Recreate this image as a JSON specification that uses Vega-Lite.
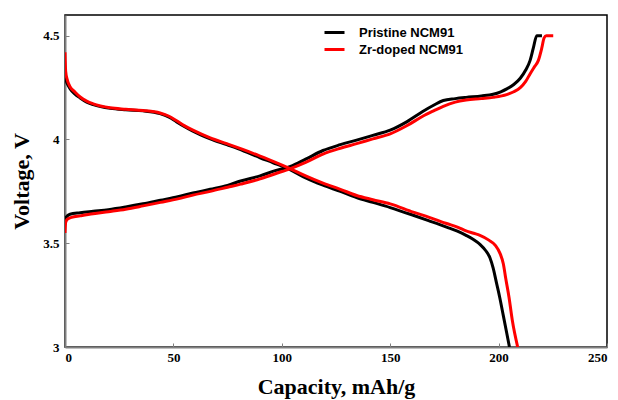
{
  "$schema": "https://vega.github.io/schema/vega-lite/v6.json",
  "width": 542,
  "height": 332,
  "autosize": "none",
  "padding": {"left": 65, "top": 15, "right": 11, "bottom": 53},
  "background": "white",
  "config": {
    "view": {"stroke": "black", "strokeWidth": 1.5},
    "axis": {
      "grid": false,
      "domainColor": "#808080",
      "domainWidth": 2,
      "tickColor": "#808080",
      "tickSize": -4,
      "tickWidth": 1,
      "labelFont": "Liberation Serif",
      "labelFontWeight": "bold",
      "labelFontSize": 13,
      "labelColor": "black",
      "titleFont": "Liberation Serif",
      "titleFontWeight": "bold",
      "titleFontSize": 22,
      "titleColor": "black"
    }
  },
  "data": {
    "values": [
      {"sample": "Pristine NCM91", "branch": "charge", "i": 0, "cap": 0, "v": 3.6},
      {"sample": "Pristine NCM91", "branch": "charge", "i": 1, "cap": 0.5, "v": 3.625},
      {"sample": "Pristine NCM91", "branch": "charge", "i": 2, "cap": 2.3, "v": 3.64},
      {"sample": "Pristine NCM91", "branch": "charge", "i": 3, "cap": 7, "v": 3.647},
      {"sample": "Pristine NCM91", "branch": "charge", "i": 4, "cap": 13, "v": 3.654},
      {"sample": "Pristine NCM91", "branch": "charge", "i": 5, "cap": 20, "v": 3.662},
      {"sample": "Pristine NCM91", "branch": "charge", "i": 6, "cap": 28, "v": 3.675},
      {"sample": "Pristine NCM91", "branch": "charge", "i": 7, "cap": 36, "v": 3.69},
      {"sample": "Pristine NCM91", "branch": "charge", "i": 8, "cap": 44, "v": 3.707},
      {"sample": "Pristine NCM91", "branch": "charge", "i": 9, "cap": 52, "v": 3.724},
      {"sample": "Pristine NCM91", "branch": "charge", "i": 10, "cap": 59, "v": 3.742},
      {"sample": "Pristine NCM91", "branch": "charge", "i": 11, "cap": 67, "v": 3.76},
      {"sample": "Pristine NCM91", "branch": "charge", "i": 12, "cap": 75, "v": 3.779},
      {"sample": "Pristine NCM91", "branch": "charge", "i": 13, "cap": 81, "v": 3.8},
      {"sample": "Pristine NCM91", "branch": "charge", "i": 14, "cap": 90, "v": 3.825},
      {"sample": "Pristine NCM91", "branch": "charge", "i": 15, "cap": 97, "v": 3.85},
      {"sample": "Pristine NCM91", "branch": "charge", "i": 16, "cap": 104, "v": 3.87},
      {"sample": "Pristine NCM91", "branch": "charge", "i": 17, "cap": 111, "v": 3.905},
      {"sample": "Pristine NCM91", "branch": "charge", "i": 18, "cap": 119, "v": 3.947},
      {"sample": "Pristine NCM91", "branch": "charge", "i": 19, "cap": 127, "v": 3.975},
      {"sample": "Pristine NCM91", "branch": "charge", "i": 20, "cap": 134.5, "v": 3.997},
      {"sample": "Pristine NCM91", "branch": "charge", "i": 21, "cap": 142, "v": 4.02},
      {"sample": "Pristine NCM91", "branch": "charge", "i": 22, "cap": 150, "v": 4.045},
      {"sample": "Pristine NCM91", "branch": "charge", "i": 23, "cap": 157.6, "v": 4.085},
      {"sample": "Pristine NCM91", "branch": "charge", "i": 24, "cap": 165, "v": 4.135},
      {"sample": "Pristine NCM91", "branch": "charge", "i": 25, "cap": 170, "v": 4.165},
      {"sample": "Pristine NCM91", "branch": "charge", "i": 26, "cap": 174.5, "v": 4.188},
      {"sample": "Pristine NCM91", "branch": "charge", "i": 27, "cap": 180, "v": 4.197},
      {"sample": "Pristine NCM91", "branch": "charge", "i": 28, "cap": 185, "v": 4.203},
      {"sample": "Pristine NCM91", "branch": "charge", "i": 29, "cap": 192, "v": 4.21},
      {"sample": "Pristine NCM91", "branch": "charge", "i": 30, "cap": 197.5, "v": 4.218},
      {"sample": "Pristine NCM91", "branch": "charge", "i": 31, "cap": 201, "v": 4.23},
      {"sample": "Pristine NCM91", "branch": "charge", "i": 32, "cap": 204, "v": 4.245},
      {"sample": "Pristine NCM91", "branch": "charge", "i": 33, "cap": 207, "v": 4.265},
      {"sample": "Pristine NCM91", "branch": "charge", "i": 34, "cap": 210, "v": 4.295},
      {"sample": "Pristine NCM91", "branch": "charge", "i": 35, "cap": 212.5, "v": 4.335},
      {"sample": "Pristine NCM91", "branch": "charge", "i": 36, "cap": 214.5, "v": 4.38},
      {"sample": "Pristine NCM91", "branch": "charge", "i": 37, "cap": 216, "v": 4.44},
      {"sample": "Pristine NCM91", "branch": "charge", "i": 38, "cap": 217.6, "v": 4.5},
      {"sample": "Pristine NCM91", "branch": "charge", "i": 39, "cap": 220, "v": 4.5},

      {"sample": "Pristine NCM91", "branch": "discharge", "i": 0, "cap": 0, "v": 4.3},
      {"sample": "Pristine NCM91", "branch": "discharge", "i": 1, "cap": 1, "v": 4.27},
      {"sample": "Pristine NCM91", "branch": "discharge", "i": 2, "cap": 2.3, "v": 4.245},
      {"sample": "Pristine NCM91", "branch": "discharge", "i": 3, "cap": 4.5, "v": 4.22},
      {"sample": "Pristine NCM91", "branch": "discharge", "i": 4, "cap": 7, "v": 4.2},
      {"sample": "Pristine NCM91", "branch": "discharge", "i": 5, "cap": 10, "v": 4.18},
      {"sample": "Pristine NCM91", "branch": "discharge", "i": 6, "cap": 13, "v": 4.168},
      {"sample": "Pristine NCM91", "branch": "discharge", "i": 7, "cap": 20.8, "v": 4.15},
      {"sample": "Pristine NCM91", "branch": "discharge", "i": 8, "cap": 28, "v": 4.143},
      {"sample": "Pristine NCM91", "branch": "discharge", "i": 9, "cap": 36, "v": 4.138},
      {"sample": "Pristine NCM91", "branch": "discharge", "i": 10, "cap": 43.8, "v": 4.125},
      {"sample": "Pristine NCM91", "branch": "discharge", "i": 11, "cap": 48, "v": 4.108},
      {"sample": "Pristine NCM91", "branch": "discharge", "i": 12, "cap": 51.5, "v": 4.085},
      {"sample": "Pristine NCM91", "branch": "discharge", "i": 13, "cap": 55, "v": 4.063},
      {"sample": "Pristine NCM91", "branch": "discharge", "i": 14, "cap": 59, "v": 4.04},
      {"sample": "Pristine NCM91", "branch": "discharge", "i": 15, "cap": 67, "v": 4.003},
      {"sample": "Pristine NCM91", "branch": "discharge", "i": 16, "cap": 74.6, "v": 3.975},
      {"sample": "Pristine NCM91", "branch": "discharge", "i": 17, "cap": 82, "v": 3.947},
      {"sample": "Pristine NCM91", "branch": "discharge", "i": 18, "cap": 90, "v": 3.912},
      {"sample": "Pristine NCM91", "branch": "discharge", "i": 19, "cap": 96, "v": 3.888},
      {"sample": "Pristine NCM91", "branch": "discharge", "i": 20, "cap": 103.8, "v": 3.855},
      {"sample": "Pristine NCM91", "branch": "discharge", "i": 21, "cap": 111, "v": 3.815},
      {"sample": "Pristine NCM91", "branch": "discharge", "i": 22, "cap": 119, "v": 3.78},
      {"sample": "Pristine NCM91", "branch": "discharge", "i": 23, "cap": 127, "v": 3.75},
      {"sample": "Pristine NCM91", "branch": "discharge", "i": 24, "cap": 134.5, "v": 3.72},
      {"sample": "Pristine NCM91", "branch": "discharge", "i": 25, "cap": 142, "v": 3.697},
      {"sample": "Pristine NCM91", "branch": "discharge", "i": 26, "cap": 150, "v": 3.672},
      {"sample": "Pristine NCM91", "branch": "discharge", "i": 27, "cap": 160.6, "v": 3.635},
      {"sample": "Pristine NCM91", "branch": "discharge", "i": 28, "cap": 168, "v": 3.608},
      {"sample": "Pristine NCM91", "branch": "discharge", "i": 29, "cap": 176, "v": 3.578},
      {"sample": "Pristine NCM91", "branch": "discharge", "i": 30, "cap": 181, "v": 3.558},
      {"sample": "Pristine NCM91", "branch": "discharge", "i": 31, "cap": 185, "v": 3.538},
      {"sample": "Pristine NCM91", "branch": "discharge", "i": 32, "cap": 188.4, "v": 3.518},
      {"sample": "Pristine NCM91", "branch": "discharge", "i": 33, "cap": 191.4, "v": 3.495},
      {"sample": "Pristine NCM91", "branch": "discharge", "i": 34, "cap": 194, "v": 3.465},
      {"sample": "Pristine NCM91", "branch": "discharge", "i": 35, "cap": 196, "v": 3.43},
      {"sample": "Pristine NCM91", "branch": "discharge", "i": 36, "cap": 197.5, "v": 3.38},
      {"sample": "Pristine NCM91", "branch": "discharge", "i": 37, "cap": 199, "v": 3.31},
      {"sample": "Pristine NCM91", "branch": "discharge", "i": 38, "cap": 200.5, "v": 3.24},
      {"sample": "Pristine NCM91", "branch": "discharge", "i": 39, "cap": 202.2, "v": 3.15},
      {"sample": "Pristine NCM91", "branch": "discharge", "i": 40, "cap": 203.7, "v": 3.07},
      {"sample": "Pristine NCM91", "branch": "discharge", "i": 41, "cap": 205, "v": 3.0},

      {"sample": "Zr-doped NCM91", "branch": "charge", "i": 0, "cap": 0, "v": 3.55},
      {"sample": "Zr-doped NCM91", "branch": "charge", "i": 1, "cap": 0.3, "v": 3.6},
      {"sample": "Zr-doped NCM91", "branch": "charge", "i": 2, "cap": 1, "v": 3.615},
      {"sample": "Zr-doped NCM91", "branch": "charge", "i": 3, "cap": 3, "v": 3.625},
      {"sample": "Zr-doped NCM91", "branch": "charge", "i": 4, "cap": 7, "v": 3.632},
      {"sample": "Zr-doped NCM91", "branch": "charge", "i": 5, "cap": 13, "v": 3.642},
      {"sample": "Zr-doped NCM91", "branch": "charge", "i": 6, "cap": 20, "v": 3.652},
      {"sample": "Zr-doped NCM91", "branch": "charge", "i": 7, "cap": 28, "v": 3.664},
      {"sample": "Zr-doped NCM91", "branch": "charge", "i": 8, "cap": 36, "v": 3.68},
      {"sample": "Zr-doped NCM91", "branch": "charge", "i": 9, "cap": 44, "v": 3.697},
      {"sample": "Zr-doped NCM91", "branch": "charge", "i": 10, "cap": 52, "v": 3.714},
      {"sample": "Zr-doped NCM91", "branch": "charge", "i": 11, "cap": 59, "v": 3.732},
      {"sample": "Zr-doped NCM91", "branch": "charge", "i": 12, "cap": 67, "v": 3.75},
      {"sample": "Zr-doped NCM91", "branch": "charge", "i": 13, "cap": 75, "v": 3.77},
      {"sample": "Zr-doped NCM91", "branch": "charge", "i": 14, "cap": 81, "v": 3.785},
      {"sample": "Zr-doped NCM91", "branch": "charge", "i": 15, "cap": 90, "v": 3.81},
      {"sample": "Zr-doped NCM91", "branch": "charge", "i": 16, "cap": 97, "v": 3.835},
      {"sample": "Zr-doped NCM91", "branch": "charge", "i": 17, "cap": 104, "v": 3.86},
      {"sample": "Zr-doped NCM91", "branch": "charge", "i": 18, "cap": 111, "v": 3.89},
      {"sample": "Zr-doped NCM91", "branch": "charge", "i": 19, "cap": 119, "v": 3.93},
      {"sample": "Zr-doped NCM91", "branch": "charge", "i": 20, "cap": 127, "v": 3.958},
      {"sample": "Zr-doped NCM91", "branch": "charge", "i": 21, "cap": 134.5, "v": 3.98},
      {"sample": "Zr-doped NCM91", "branch": "charge", "i": 22, "cap": 142, "v": 4.003},
      {"sample": "Zr-doped NCM91", "branch": "charge", "i": 23, "cap": 150, "v": 4.027},
      {"sample": "Zr-doped NCM91", "branch": "charge", "i": 24, "cap": 157.6, "v": 4.066},
      {"sample": "Zr-doped NCM91", "branch": "charge", "i": 25, "cap": 165, "v": 4.112},
      {"sample": "Zr-doped NCM91", "branch": "charge", "i": 26, "cap": 170, "v": 4.138},
      {"sample": "Zr-doped NCM91", "branch": "charge", "i": 27, "cap": 174.5, "v": 4.16},
      {"sample": "Zr-doped NCM91", "branch": "charge", "i": 28, "cap": 180, "v": 4.18},
      {"sample": "Zr-doped NCM91", "branch": "charge", "i": 29, "cap": 185, "v": 4.19},
      {"sample": "Zr-doped NCM91", "branch": "charge", "i": 30, "cap": 192, "v": 4.197},
      {"sample": "Zr-doped NCM91", "branch": "charge", "i": 31, "cap": 197.5, "v": 4.203},
      {"sample": "Zr-doped NCM91", "branch": "charge", "i": 32, "cap": 203.7, "v": 4.216},
      {"sample": "Zr-doped NCM91", "branch": "charge", "i": 33, "cap": 207, "v": 4.23},
      {"sample": "Zr-doped NCM91", "branch": "charge", "i": 34, "cap": 210, "v": 4.25},
      {"sample": "Zr-doped NCM91", "branch": "charge", "i": 35, "cap": 212.5, "v": 4.28},
      {"sample": "Zr-doped NCM91", "branch": "charge", "i": 36, "cap": 214.5, "v": 4.316},
      {"sample": "Zr-doped NCM91", "branch": "charge", "i": 37, "cap": 216.5, "v": 4.35},
      {"sample": "Zr-doped NCM91", "branch": "charge", "i": 38, "cap": 218.3, "v": 4.38},
      {"sample": "Zr-doped NCM91", "branch": "charge", "i": 39, "cap": 219.9, "v": 4.44},
      {"sample": "Zr-doped NCM91", "branch": "charge", "i": 40, "cap": 221, "v": 4.49},
      {"sample": "Zr-doped NCM91", "branch": "charge", "i": 41, "cap": 222, "v": 4.5},
      {"sample": "Zr-doped NCM91", "branch": "charge", "i": 42, "cap": 225.2, "v": 4.5},

      {"sample": "Zr-doped NCM91", "branch": "discharge", "i": 0, "cap": 0, "v": 4.42},
      {"sample": "Zr-doped NCM91", "branch": "discharge", "i": 1, "cap": 0.3, "v": 4.33},
      {"sample": "Zr-doped NCM91", "branch": "discharge", "i": 2, "cap": 1, "v": 4.29},
      {"sample": "Zr-doped NCM91", "branch": "discharge", "i": 3, "cap": 2.3, "v": 4.255},
      {"sample": "Zr-doped NCM91", "branch": "discharge", "i": 4, "cap": 4.5, "v": 4.23},
      {"sample": "Zr-doped NCM91", "branch": "discharge", "i": 5, "cap": 7, "v": 4.205},
      {"sample": "Zr-doped NCM91", "branch": "discharge", "i": 6, "cap": 10, "v": 4.185},
      {"sample": "Zr-doped NCM91", "branch": "discharge", "i": 7, "cap": 13, "v": 4.172},
      {"sample": "Zr-doped NCM91", "branch": "discharge", "i": 8, "cap": 20.8, "v": 4.153},
      {"sample": "Zr-doped NCM91", "branch": "discharge", "i": 9, "cap": 28, "v": 4.146},
      {"sample": "Zr-doped NCM91", "branch": "discharge", "i": 10, "cap": 36, "v": 4.14},
      {"sample": "Zr-doped NCM91", "branch": "discharge", "i": 11, "cap": 43.8, "v": 4.128},
      {"sample": "Zr-doped NCM91", "branch": "discharge", "i": 12, "cap": 48, "v": 4.112},
      {"sample": "Zr-doped NCM91", "branch": "discharge", "i": 13, "cap": 51.5, "v": 4.09},
      {"sample": "Zr-doped NCM91", "branch": "discharge", "i": 14, "cap": 55, "v": 4.067},
      {"sample": "Zr-doped NCM91", "branch": "discharge", "i": 15, "cap": 59, "v": 4.045},
      {"sample": "Zr-doped NCM91", "branch": "discharge", "i": 16, "cap": 67, "v": 4.008},
      {"sample": "Zr-doped NCM91", "branch": "discharge", "i": 17, "cap": 74.6, "v": 3.98},
      {"sample": "Zr-doped NCM91", "branch": "discharge", "i": 18, "cap": 82, "v": 3.952},
      {"sample": "Zr-doped NCM91", "branch": "discharge", "i": 19, "cap": 90, "v": 3.92},
      {"sample": "Zr-doped NCM91", "branch": "discharge", "i": 20, "cap": 96, "v": 3.895},
      {"sample": "Zr-doped NCM91", "branch": "discharge", "i": 21, "cap": 103.8, "v": 3.86},
      {"sample": "Zr-doped NCM91", "branch": "discharge", "i": 22, "cap": 111, "v": 3.825},
      {"sample": "Zr-doped NCM91", "branch": "discharge", "i": 23, "cap": 119, "v": 3.79},
      {"sample": "Zr-doped NCM91", "branch": "discharge", "i": 24, "cap": 127, "v": 3.76},
      {"sample": "Zr-doped NCM91", "branch": "discharge", "i": 25, "cap": 134.5, "v": 3.73},
      {"sample": "Zr-doped NCM91", "branch": "discharge", "i": 26, "cap": 142, "v": 3.71},
      {"sample": "Zr-doped NCM91", "branch": "discharge", "i": 27, "cap": 150, "v": 3.69},
      {"sample": "Zr-doped NCM91", "branch": "discharge", "i": 28, "cap": 160.6, "v": 3.65},
      {"sample": "Zr-doped NCM91", "branch": "discharge", "i": 29, "cap": 168, "v": 3.625},
      {"sample": "Zr-doped NCM91", "branch": "discharge", "i": 30, "cap": 176, "v": 3.595},
      {"sample": "Zr-doped NCM91", "branch": "discharge", "i": 31, "cap": 181, "v": 3.578},
      {"sample": "Zr-doped NCM91", "branch": "discharge", "i": 32, "cap": 185, "v": 3.56},
      {"sample": "Zr-doped NCM91", "branch": "discharge", "i": 33, "cap": 188.5, "v": 3.548},
      {"sample": "Zr-doped NCM91", "branch": "discharge", "i": 34, "cap": 191.4, "v": 3.538},
      {"sample": "Zr-doped NCM91", "branch": "discharge", "i": 35, "cap": 195.5, "v": 3.515},
      {"sample": "Zr-doped NCM91", "branch": "discharge", "i": 36, "cap": 198.5, "v": 3.49},
      {"sample": "Zr-doped NCM91", "branch": "discharge", "i": 37, "cap": 200.7, "v": 3.45},
      {"sample": "Zr-doped NCM91", "branch": "discharge", "i": 38, "cap": 202.2, "v": 3.4},
      {"sample": "Zr-doped NCM91", "branch": "discharge", "i": 39, "cap": 203.3, "v": 3.33},
      {"sample": "Zr-doped NCM91", "branch": "discharge", "i": 40, "cap": 204.8, "v": 3.24},
      {"sample": "Zr-doped NCM91", "branch": "discharge", "i": 41, "cap": 206.3, "v": 3.13},
      {"sample": "Zr-doped NCM91", "branch": "discharge", "i": 42, "cap": 208.8, "v": 3.0}
    ]
  },
  "mark": {"type": "line", "strokeWidth": 3, "clip": true, "interpolate": "monotone"},
  "encoding": {
    "x": {
      "field": "cap",
      "type": "quantitative",
      "title": "Capacity, mAh/g",
      "scale": {"domain": [0, 250], "nice": false, "zero": false},
      "axis": {"values": [0, 50, 100, 150, 200, 250], "labelPadding": 8, "titlePadding": 12}
    },
    "y": {
      "field": "v",
      "type": "quantitative",
      "title": "Voltage, V",
      "scale": {"domain": [3, 4.6], "nice": false, "zero": false},
      "axis": {"values": [3, 3.5, 4, 4.5], "format": "~g", "labelPadding": 10, "titlePadding": 9}
    },
    "color": {
      "field": "sample",
      "type": "nominal",
      "scale": {"domain": ["Pristine NCM91", "Zr-doped NCM91"], "range": ["#000000", "#ff0000"]},
      "legend": {
        "title": null,
        "orient": "none",
        "legendX": 263,
        "legendY": 11,
        "symbolType": "M-2,0H2",
        "symbolSize": 100,
        "symbolStrokeWidth": 3,
        "labelFont": "Liberation Sans",
        "labelFontWeight": "bold",
        "labelFontSize": 13,
        "labelColor": "black",
        "labelOffset": 18,
        "rowPadding": 3,
        "padding": 0
      }
    },
    "detail": {"field": "branch", "type": "nominal"},
    "order": {"field": "i", "type": "quantitative"}
  }
}
